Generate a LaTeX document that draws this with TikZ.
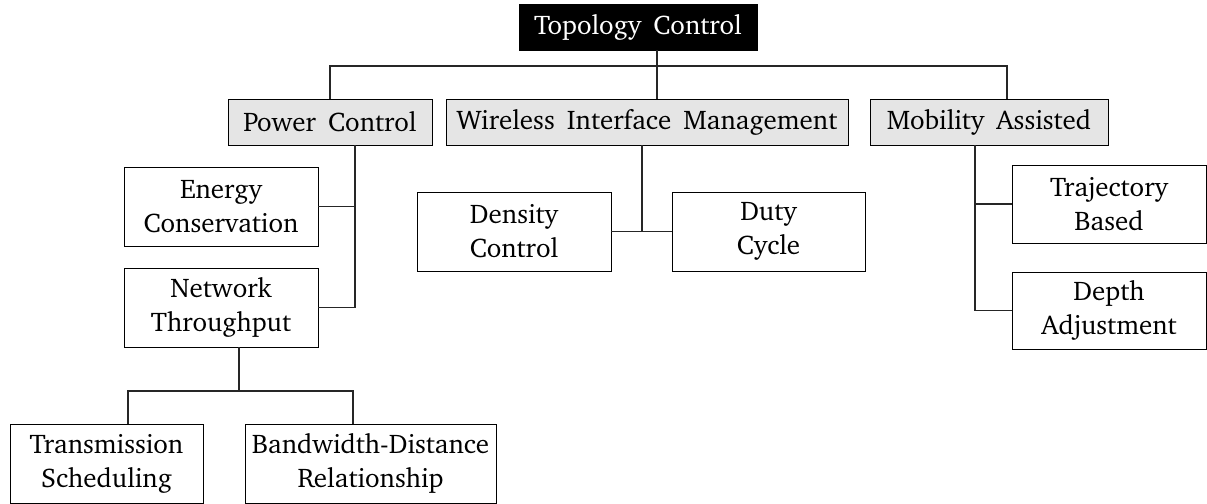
\documentclass[tikz,border=0pt]{standalone}
\usepackage[T1]{fontenc}
\usepackage{charter}
\usepackage{tikz}
\usetikzlibrary{calc}
\newcommand{\treefont}{\fontsize{13.5}{17}\selectfont\spaceskip 0.45em plus 0.1em\relax}

\begin{document}
\begin{tikzpicture}[x=0.5pt,y=-0.5pt,
        every node/.style={font=\treefont},
        rootbox/.style={draw, fill=black, text=white, minimum width=119pt, minimum height=23pt, inner sep=1pt},
        branchbox/.style={draw, fill=black!10, minimum height=23pt, inner sep=1pt},
        leafbox/.style={draw, fill=white, minimum width=97pt, minimum height=39.5pt, align=center, inner sep=1pt},
        link/.style={line width=0.6pt, draw=black!85}]
        \useasboundingbox (0,0) rectangle (1207,504);

        % root and first level
        \node[rootbox] (topo) at (638,27) {Topology Control};
        \node[branchbox, minimum width=102pt] (pc) at (330,122) {Power Control};
        \node[branchbox, minimum width=201pt] (wim) at (647,122) {Wireless Interface Management};
        \node[branchbox, minimum width=119pt] (ma) at (989,122) {Mobility Assisted};

        % leaves
        \node[leafbox] (ec) at (221,206.5) {Energy\\Conservation};
        \node[leafbox] (nt) at (221,307.5) {Network\\Throughput};
        \node[leafbox, minimum width=96.5pt] (ts) at (106.5,463.5) {Transmission\\Scheduling};
        \node[leafbox, minimum width=125.5pt] (bd) at (370.5,463.5) {Bandwidth-Distance\\Relationship};
        \node[leafbox] (dc) at (514,231.5) {Density\\Control};
        \node[leafbox, minimum width=96.5pt] (dy) at (768.5,231.5) {Duty\\Cycle};
        \node[leafbox, minimum height=39pt] (tb) at (1109,204) {Trajectory\\Based};
        \node[leafbox, minimum height=38.5pt] (da) at (1109,310.5) {Depth\\Adjustment};

        \coordinate (bus) at (0,66);
        \coordinate (ntfork) at (239,391);

        % connectors
        \draw[link] ([xshift=9.5pt]topo.south) -- ([xshift=5pt]wim.north);
        \draw[link] (pc.north) -- (pc.north |- bus) -- ([xshift=9pt]ma.north |- bus) -- ([xshift=9pt]ma.north);
        \draw[link] (ec.east) -| ([xshift=12.5pt]pc.south);
        \draw[link] ([xshift=12.5pt]pc.south) |- (nt.east);
        \draw[link] ([xshift=9pt]nt.south) -- (ntfork);
        \draw[link] ([xshift=10.75pt]ts.north) |- (ntfork) -| ([xshift=-8.75pt]bd.north);
        \draw[link] ([xshift=-2.5pt]wim.south) -- ([xshift=-2.5pt]wim.south |- dc.east);
        \draw[link] (dc.east) -- (dy.west);
        \draw[link] (tb.west) -| ([xshift=-7pt]ma.south);
        \draw[link] ([xshift=-7pt]ma.south) |- (da.west);
    \end{tikzpicture}
\end{document}
